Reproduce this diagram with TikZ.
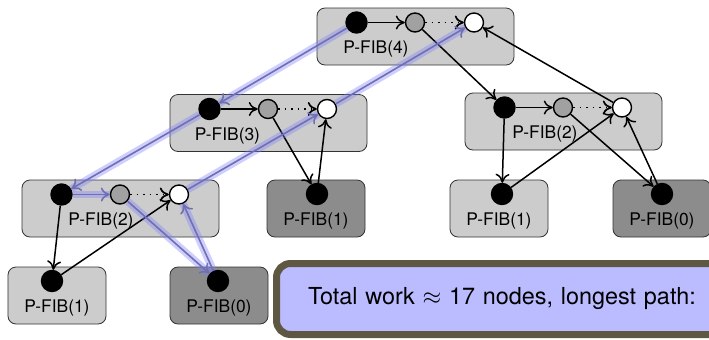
\documentclass[tikz,border=0pt]{standalone}
\usepackage{fontspec}
\setmainfont{TeX Gyre Heros}
\usepackage{xcolor}
\usepackage{tikz}
\usetikzlibrary{arrows.meta}
\definecolor{pathblue}{RGB}{112,112,176}
\definecolor{bandblue}{RGB}{128,128,255}
\definecolor{workedge}{RGB}{94,88,66}
\definecolor{workfill}{RGB}{187,187,255}

\begin{document}
\begin{tikzpicture}[x=0.5pt,y=-0.5pt,
 call/.style={draw=black!80,line width=0.4pt,rounded corners=4pt,fill=black!20,minimum width=98.5pt,minimum height=28.5pt,inner sep=0pt},
 leaf/.style={call,minimum width=49pt},
 spawn/.style={circle,draw=black,line width=0.7pt,fill=black,minimum size=10.5pt,inner sep=0pt},
 cont/.style={circle,draw=black,line width=0.7pt,fill=black!37,minimum size=9.5pt,inner sep=0pt},
 sync/.style={cont,fill=white},
 lab/.style={font=\fontsize{8.7}{10}\selectfont,inner sep=0pt},
 arr/.style={-{To[length=4.5pt,width=7pt]},line width=0.75pt},
 dots/.style={arr,line width=0.85pt,dash pattern=on 0.85pt off 2.4pt},
 crit/.style={arr,draw=pathblue,line width=0.8pt,preaction={draw=bandblue,opacity=0.38,line width=3.8pt,-}},
 workbox/.style={draw=workedge,line width=3.5pt,fill=workfill,rounded corners=7pt,outer sep=0pt,minimum height=35.5pt,inner xsep=15.75pt,text width=250pt,align=left,font=\fontsize{11.7}{14}\selectfont}]
\clip (0,0) rectangle (709,339);
% procedure instances with spawn, continue and sync strands
\foreach \n/\x/\y/\t/\dx in {4/317/8/4/59,3/170/94.5/3/57.5,2l/22/180/2/79,2r/465/93/2/80}{
 \node[call] (box\n) at (\x+98.5,\y+28.5) {};
 \node[spawn] (blk\n) at (\x+39.5,\y+14.5) {};
 \node[cont] (gry\n) at (\x+98,\y+14.5) {};
 \node[sync] (wht\n) at (\x+157,\y+14.5) {};
 \node[lab] (lab\n) at (\x+\dx,\y+41) {P-FIB(\t)};
}
% base cases
\foreach \n/\x/\y/\t/\c/\bx in {1a/8/267/1/20/44,0a/170/267/0/45/48,1m/267/180/1/45/50,1r/450/180/1/20/52,0r/613/180/0/45/49}{
 \node[leaf,fill=black!\c] (box\n) at (\x+49,\y+28.5) {};
 \node[spawn] (blk\n) at (\x+\bx,\y+14) {};
 \node[lab] (lab\n) at (\x+49,\y+40.5) {P-FIB(\t)};
}
\foreach \n in {4,3,2r}
 \draw[arr] (blk\n) -- (gry\n);
\foreach \n in {4,3,2l,2r}
 \draw[dots] (gry\n) -- (wht\n);
\draw[arr] (gry4) -- (blk2r);
\draw[arr] (wht2r) -- (wht4);
\draw[arr] (gry3) -- (blk1m);
\draw[arr] (blk1m) -- (wht3);
\draw[arr] (blk2l) -- (blk1a);
\draw[arr] (blk1a) -- (wht2l);
\draw[arr] (blk2r) -- (blk1r);
\draw[arr] (blk1r) -- (wht2r);
\draw[arr] (gry2r) -- (blk0r);
\draw[arr] (blk0r) -- (wht2r);
% longest path
\draw[crit] (blk4) -- (blk3);
\draw[crit] (blk3) -- (blk2l);
\draw[crit] (blk2l) -- (gry2l);
\draw[crit] (gry2l) -- (blk0a);
\draw[crit] (blk0a) -- (wht2l);
\draw[crit] (wht2l) -- (wht3);
\draw[crit] (wht3) -- (wht4);
\node[workbox,anchor=west] (work) at (276.5,299) {Total work $\approx$ 17 nodes, longest path:};
\end{tikzpicture}
\end{document}
